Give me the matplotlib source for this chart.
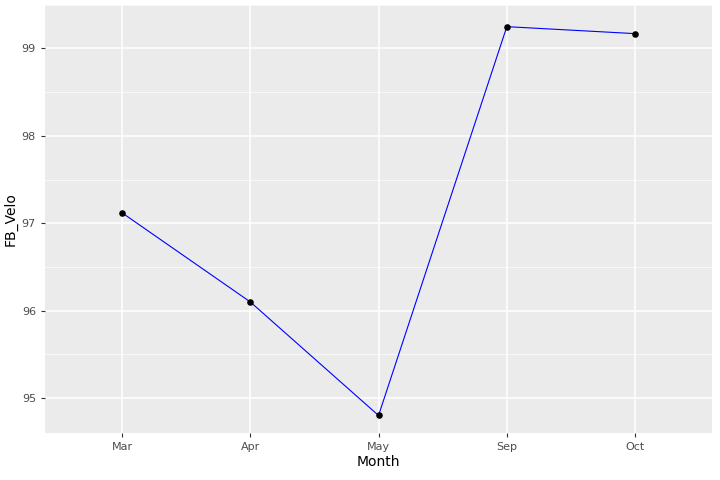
import matplotlib
matplotlib.use("Agg")
import matplotlib.pyplot as plt
import numpy as np

months = ["Mar", "Apr", "May", "Sep", "Oct"]
fb_velo = [97.12, 96.10, 94.80, 99.25, 99.17]

fig = plt.figure(figsize=(7.2, 4.8), dpi=100)
ax = fig.add_axes([0.0625, 0.098, 0.9265, 0.892])
ax.set_facecolor("#EBEBEB")
x = np.arange(len(months))
ax.plot(x, fb_velo, color="blue", lw=0.8, zorder=3)
ax.scatter(x, fb_velo, color="black", s=14, zorder=4)
ax.set_xlim(-0.6, len(months) - 0.4)
ax.set_ylim(94.6, 99.49)
ax.set_xticks(x)
ax.set_xticklabels(months)
ax.set_yticks([95, 96, 97, 98, 99])
ax.set_yticks([94.5 + i for i in range(1, 6)], minor=True)
ax.grid(True, which="major", color="white", lw=1.1)
ax.grid(True, which="minor", axis="y", color="white", lw=0.5)
ax.set_axisbelow(True)
for s in ax.spines.values():
    s.set_visible(False)
ax.tick_params(which="major", colors="#333333", labelcolor="#4D4D4D", labelsize=8, length=3)
ax.tick_params(which="minor", length=0)
ax.set_xlabel("Month", fontsize=10, labelpad=2)
ax.set_ylabel("FB_Velo", fontsize=10, labelpad=3)
fig.savefig("out.png")
